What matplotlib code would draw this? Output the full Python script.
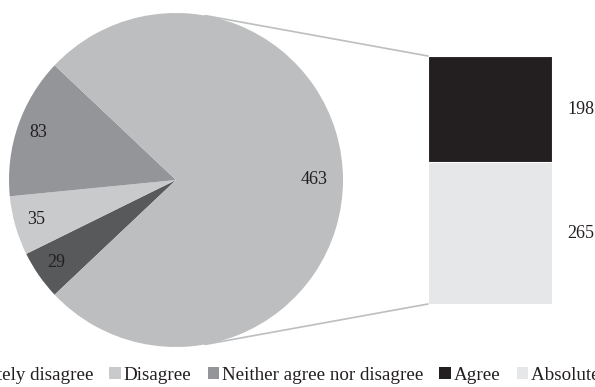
import numpy as np
import matplotlib
matplotlib.use("Agg")
import matplotlib.pyplot as plt
from matplotlib.patches import Patch, ConnectionPatch

plt.rcParams['font.family'] = ['Liberation Serif', 'DejaVu Serif']

# data
kategorie = ['Absolutely disagree', 'Disagree', 'Neither agree nor disagree', 'Agree', 'Absolutely agree']
wartosci = [29, 35, 83, 198, 265]
kolory = ['#58595b', '#c9cacc', '#939598', '#231f20', '#e6e7e8']
kolor_reszta = '#bcbec0'

pie_wart = wartosci[:3] + [sum(wartosci[3:])]
pie_kol = kolory[:3] + [kolor_reszta]
bar_wart = wartosci[3:]
bar_kol = kolory[3:]

fig = plt.figure(figsize=(5.95, 3.87), dpi=100)

# pie
axp = fig.add_axes([9/595, 1-347/387, 334/595, 334/387])
suma = sum(pie_wart)
start = 360 - pie_wart[-1]/suma*180
wedges, teksty, auto = axp.pie(pie_wart, colors=pie_kol, startangle=start, counterclock=False,
                               autopct=lambda p: '%d' % round(p*suma/100), pctdistance=0.87,
                               wedgeprops=dict(linewidth=0),
                               textprops=dict(fontsize=13, color='#231f20'))
x, y = auto[-1].get_position()
auto[-1].set_position((x*0.83/0.87, y*0.83/0.87))
axp.set_xlim(-1, 1)
axp.set_ylim(-1, 1)
axp.set_aspect('equal')
axp.axis('off')

# bar
axb = fig.add_axes([428/595, 1-304/387, 124/595, 248/387])
dol = 0
srodki = []
for v, k in zip(bar_wart[::-1], bar_kol[::-1]):
    axb.bar(0, v, width=1, bottom=dol, color=k, edgecolor='white', linewidth=0.8)
    srodki.append((dol + v/2, v))
    dol += v
for sr, v in srodki:
    axb.annotate(str(v), xy=(0.5, sr), xytext=(11, 0), textcoords='offset points',
                 ha='left', va='center', fontsize=13, color='#231f20', annotation_clip=False)
axb.set_xlim(-0.5, 0.5)
axb.set_ylim(0, sum(bar_wart))
axb.axis('off')

# connector lines
kat = np.deg2rad(80)
for znak, yb in [(1, sum(bar_wart)), (-1, 0)]:
    con = ConnectionPatch(xyA=(np.cos(kat), znak*np.sin(kat)), coordsA=axp.transData,
                          xyB=(-0.5, yb), coordsB=axb.transData,
                          color=kolor_reszta, linewidth=1.2)
    fig.add_artist(con)

# legend
uchwyty = [Patch(facecolor=k, edgecolor='none') for k in kolory]
fig.legend(uchwyty, kategorie, loc='lower center', bbox_to_anchor=(0.494, -0.012), ncol=5,
           frameon=False, fontsize=13.7, handlelength=0.6, handleheight=0.6,
           handletextpad=0.15, columnspacing=0.85, borderaxespad=0, labelcolor='#231f20')

fig.savefig('out.png', dpi=100)
